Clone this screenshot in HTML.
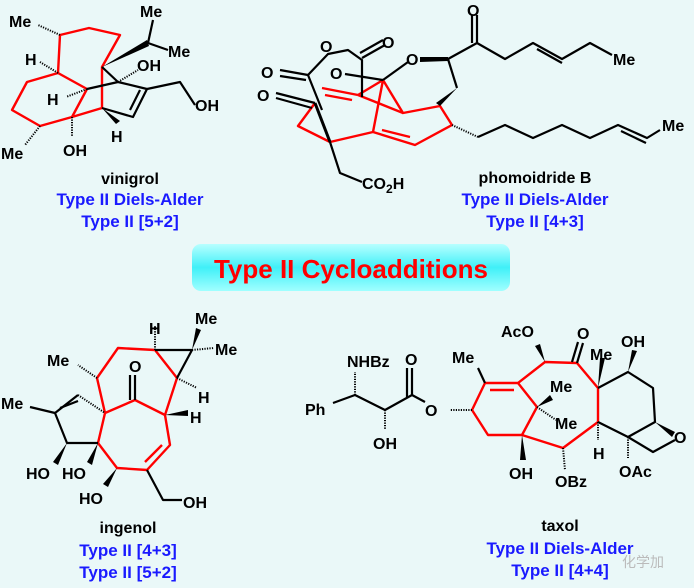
<!DOCTYPE html>
<html><head><meta charset="utf-8"><style>
html,body{margin:0;padding:0;background:#eaf8f8;}
svg{display:block}
text{font-family:"Liberation Sans",Arial,sans-serif;font-weight:bold;font-size:16px;fill:#000}
.b{fill:#1a1aff;font-size:17px}
.k{stroke:#000;stroke-width:2.2;fill:none;stroke-linejoin:round}
.r{stroke:#f00;stroke-width:2.4;fill:none;stroke-linejoin:round}
.h{stroke:#000;stroke-width:2;stroke-dasharray:1.2 1.3}
</style></head><body>
<svg width="694" height="588" viewBox="0 0 694 588" xmlns="http://www.w3.org/2000/svg">
<defs><linearGradient id="g" x1="0" y1="0" x2="0" y2="1"><stop offset="0" stop-color="#b8ffff"/><stop offset="0.5" stop-color="#40f0f8"/><stop offset="1" stop-color="#a0ffff"/></linearGradient></defs>
<rect width="694" height="588" fill="#eaf8f8"/>

<!-- vinigrol -->
<g>
<polyline class="r" points="58,73 60,35 89,28 120,35 102,67 102,108 72,117 87,89 58,73 27,82 12,110 40,126 72,117"/>
<line class="k" x1="102" y1="67" x2="118" y2="82"/>
<line class="k" x1="87" y1="89" x2="118" y2="82"/>
<polyline class="k" points="118,82 147,89 133,117 102,108"/>
<line class="k" x1="140" y1="90" x2="130" y2="110"/>
<polygon points="102,67 147,40 149,46" fill="#000"/>
<line class="k" x1="148" y1="43" x2="153" y2="20"/>
<line class="k" x1="148" y1="43" x2="168" y2="50"/>
<polyline class="k" points="147,89 180,82 195,105"/>
<line class="h" x1="60" y1="35" x2="38" y2="25"/>
<line class="h" x1="58" y1="73" x2="40" y2="62"/>
<line class="h" x1="87" y1="89" x2="66" y2="97"/>
<line class="h" x1="40" y1="126" x2="25" y2="145"/>
<line class="h" x1="72" y1="117" x2="72" y2="137"/>
<line class="h" x1="118" y1="82" x2="138" y2="70"/>
<polygon points="102,108 116,124 120,121" fill="#000"/>
<text x="9" y="27">Me</text><text x="140" y="17">Me</text><text x="168" y="57">Me</text>
<text x="25" y="65">H</text><text x="47" y="105">H</text><text x="111" y="142">H</text>
<text x="137" y="71">OH</text><text x="195" y="111">OH</text><text x="63" y="156">OH</text>
<text x="1" y="159">Me</text>
<text x="130" y="184" text-anchor="middle">vinigrol</text>
<text class="b" x="130" y="205" text-anchor="middle">Type II Diels-Alder</text>
<text class="b" x="130" y="227" text-anchor="middle">Type II [5+2]</text>
</g>

<!-- phomoidride -->
<g>
<polyline class="r" points="315,103 298,126 330,142 373,132 415,145 452,125 440,106 403,113 383,80 373,132"/>
<line class="r" x1="383" y1="80" x2="358" y2="95"/>
<line class="r" x1="322" y1="88" x2="358" y2="95"/>
<line class="r" x1="325" y1="95" x2="352" y2="100"/>
<line class="r" x1="358" y1="95" x2="403" y2="113"/>
<line class="r" x1="382" y1="130" x2="410" y2="137"/>
<line class="k" x1="315" y1="103" x2="330" y2="142" style="stroke-width:3"/>
<polyline class="k" points="330,142 340,173 362,182"/>
<polyline class="k" points="308,75 328,54 348,50 362,60 362,97"/>
<line class="k" x1="362" y1="58" x2="385" y2="45"/><line class="k" x1="360" y1="53" x2="383" y2="40"/>
<line class="k" x1="308" y1="75" x2="280" y2="70"/><line class="k" x1="306" y1="80" x2="280" y2="76"/>
<line class="k" x1="308" y1="75" x2="322" y2="110"/>
<line class="k" x1="345" y1="74" x2="383" y2="80"/>
<line class="k" x1="276" y1="93" x2="315" y2="103"/><line class="k" x1="276" y1="98" x2="312" y2="108"/>
<line class="k" x1="383" y1="80" x2="408" y2="62"/>
<polygon points="420,57 448,57 448,61 420,62" fill="#000"/>
<line class="k" x1="448" y1="59" x2="457" y2="88"/>
<polygon points="457,88 440,106 436,103" fill="#000"/>
<polyline class="k" points="448,59 477,43 505,59 533,43 562,59 590,43 612,55"/>
<line class="k" x1="537" y1="49" x2="562" y2="63"/>
<line class="k" x1="477" y1="43" x2="477" y2="15"/><line class="k" x1="472" y1="43" x2="472" y2="15"/>
<line class="h" x1="452" y1="125" x2="478" y2="137"/>
<polyline class="k" points="478,137 505,125 533,138 562,125 590,138 618,125 647,138 660,130"/>
<line class="k" x1="621" y1="131" x2="646" y2="143"/>
<text x="467" y="16">O</text><text x="382" y="48">O</text><text x="320" y="52">O</text>
<text x="261" y="78">O</text><text x="330" y="79">O</text><text x="257" y="101">O</text>
<text x="406" y="65">O</text><text x="613" y="65">Me</text><text x="662" y="131">Me</text>
<text x="362" y="189">CO<tspan font-size="12" dy="4">2</tspan><tspan dy="-4">H</tspan></text>
<text x="535" y="183" text-anchor="middle">phomoidride B</text>
<text class="b" x="535" y="205" text-anchor="middle">Type II Diels-Alder</text>
<text class="b" x="535" y="227" text-anchor="middle">Type II [4+3]</text>
</g>

<!-- banner -->
<rect x="192" y="244" width="318" height="47" rx="9" fill="url(#g)"/>
<text x="351" y="278" text-anchor="middle" style="fill:#f00;font-size:26px">Type II Cycloadditions</text>

<!-- ingenol -->
<g>
<polyline class="r" points="97,378 118,348 155,350 177,378 165,415 170,445 147,470 117,468 98,443 105,413 97,378"/>
<line class="r" x1="162" y1="445" x2="145" y2="462"/>
<polyline class="r" points="105,413 135,400 165,415"/>
<line class="k" x1="135" y1="400" x2="135" y2="375"/><line class="k" x1="130" y1="400" x2="130" y2="375"/>
<polyline class="k" points="155,350 192,350 177,378"/>
<polygon points="192,350 196,328 201,330" fill="#000"/>
<line class="h" x1="192" y1="350" x2="214" y2="348"/>
<line class="h" x1="155" y1="350" x2="155" y2="325"/>
<line class="h" x1="177" y1="378" x2="197" y2="388"/>
<polygon points="165,415 188,410 188,416" fill="#000"/>
<line class="h" x1="97" y1="378" x2="78" y2="365"/>
<polyline class="k" points="78,395 55,413 67,443 98,443"/>
<line class="k" x1="60" y1="408" x2="78" y2="401"/>
<line class="h" x1="78" y1="395" x2="105" y2="413"/>
<line class="k" x1="55" y1="413" x2="30" y2="407"/>
<polygon points="67,443 58,465 53,462" fill="#000"/>
<polygon points="98,443 92,465 87,462" fill="#000"/>
<polygon points="117,468 108,487 103,484" fill="#000"/>
<polyline class="k" points="147,470 163,500 182,500"/>
<text x="149" y="334">H</text><text x="195" y="324">Me</text><text x="215" y="355">Me</text>
<text x="198" y="403">H</text><text x="190" y="423">H</text><text x="129" y="372">O</text>
<text x="47" y="366">Me</text><text x="1" y="409">Me</text>
<text x="26" y="479">HO</text><text x="62" y="479">HO</text><text x="79" y="504">HO</text>
<text x="183" y="508">OH</text>
<text x="128" y="533" text-anchor="middle">ingenol</text>
<text class="b" x="128" y="556" text-anchor="middle">Type II [4+3]</text>
<text class="b" x="128" y="578" text-anchor="middle">Type II [5+2]</text>
</g>

<!-- taxol -->
<g>
<polyline class="r" points="485,383 518,383 545,362 577,363 598,388 598,422 563,448 522,435 488,435 472,410 485,383"/>
<line class="r" x1="490" y1="390" x2="514" y2="390"/>
<polyline class="r" points="518,383 537,407 522,435"/>
<line class="k" x1="485" y1="383" x2="478" y2="368"/>
<polygon points="545,362 535,346 540,344" fill="#000"/>
<line class="k" x1="577" y1="363" x2="583" y2="343"/><line class="k" x1="572" y1="362" x2="578" y2="342"/>
<polygon points="598,388 600,358 605,358" fill="#000"/>
<polygon points="537,407 550,395 553,400" fill="#000"/>
<line class="h" x1="537" y1="407" x2="556" y2="420"/>
<polygon points="522,435 520,460 526,460" fill="#000"/>
<line class="h" x1="563" y1="448" x2="565" y2="470"/>
<line class="h" x1="598" y1="422" x2="598" y2="440"/>
<polyline class="k" points="598,388 628,372 653,388 655,422 628,437 598,422"/>
<polygon points="628,372 632,350 637,351" fill="#000"/>
<polygon points="655,422 675,432 672,437" fill="#000"/>
<polyline class="k" points="628,437 653,452 675,440"/>
<line class="h" x1="628" y1="437" x2="628" y2="458"/>
<line class="h" x1="472" y1="410" x2="450" y2="410"/>
<polyline class="k" points="425,402 412,395 385,410 355,395 333,403"/>
<line class="k" x1="412" y1="395" x2="412" y2="368"/><line class="k" x1="407" y1="397" x2="407" y2="368"/>
<line class="h" x1="385" y1="410" x2="385" y2="430"/>
<line class="h" x1="355" y1="395" x2="355" y2="372"/>
<text x="452" y="363">Me</text><text x="501" y="337">AcO</text><text x="577" y="339">O</text>
<text x="590" y="360">Me</text><text x="550" y="392">Me</text><text x="555" y="429">Me</text>
<text x="621" y="347">OH</text><text x="674" y="443">O</text><text x="619" y="477">OAc</text>
<text x="593" y="459">H</text><text x="509" y="479">OH</text><text x="555" y="487">OBz</text>
<text x="425" y="416">O</text><text x="405" y="365">O</text><text x="347" y="367">NHBz</text>
<text x="305" y="415">Ph</text><text x="373" y="449">OH</text>
<text x="560" y="531" text-anchor="middle">taxol</text>
<text class="b" x="560" y="554" text-anchor="middle">Type II Diels-Alder</text>
<text class="b" x="560" y="576" text-anchor="middle">Type II [4+4]</text>
<text x="622" y="567" style="fill:#bbb;font-weight:normal;font-size:14px;font-family:'Liberation Sans','Noto Sans CJK SC',sans-serif">化学加</text>
</g>
</svg>
</body></html>
